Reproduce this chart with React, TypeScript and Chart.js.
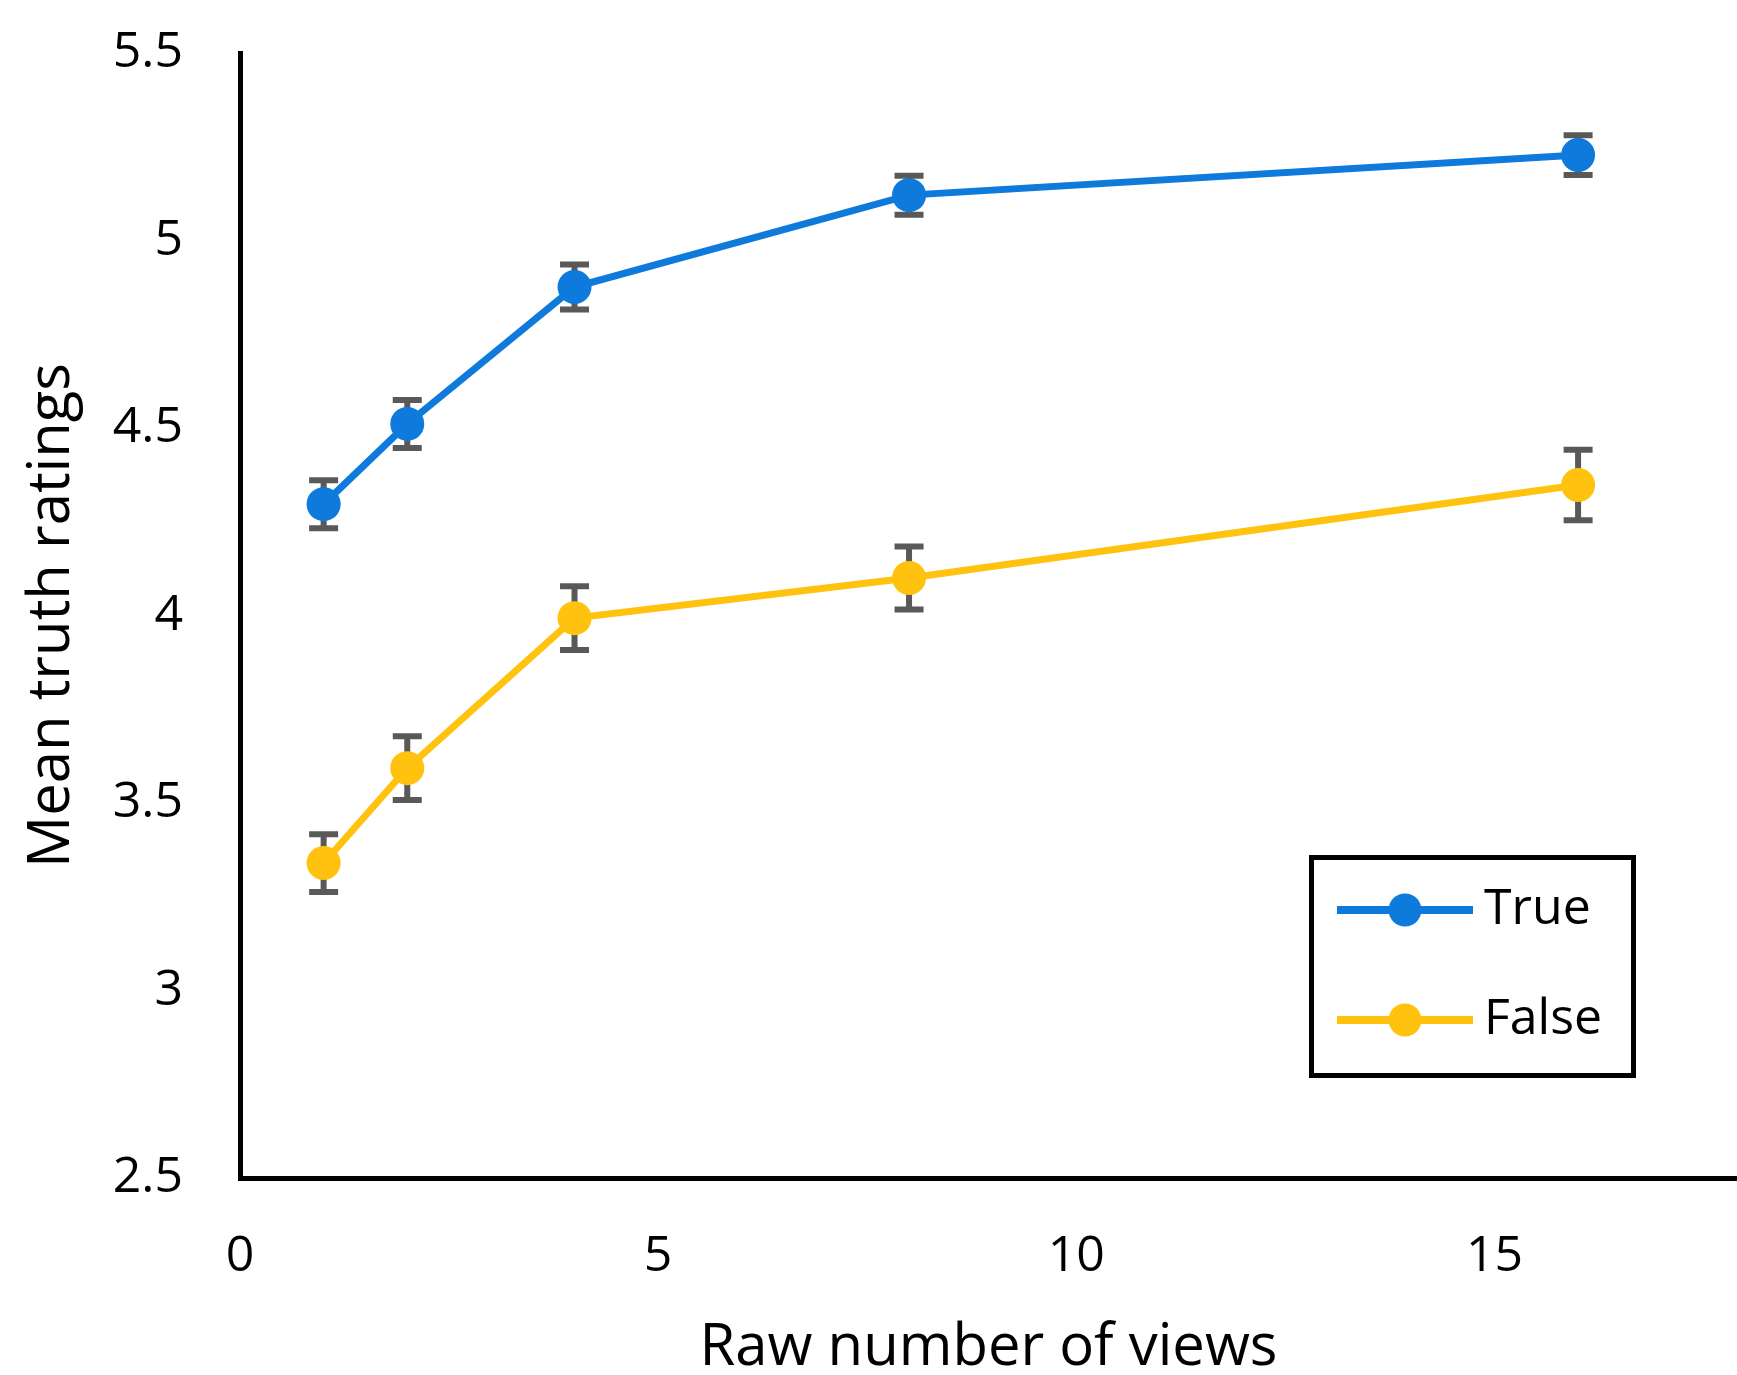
import React, { useEffect, useRef } from "react";
import { Chart, registerables } from "chart.js";

Chart.register(...registerables);

// ---- data ----
const views = [1, 2, 4, 8, 16];
const trueMeans = [4.297, 4.511, 4.876, 5.121, 5.228];
const trueErrors = [0.064, 0.064, 0.06, 0.052, 0.053];
const falseMeans = [3.34, 3.593, 3.993, 4.1, 4.348];
const falseErrors = [0.077, 0.085, 0.085, 0.084, 0.094];
const seriesNames = ["True", "False"];
const yTickValues = [2.5, 3, 3.5, 4, 4.5, 5, 5.5];
const xTickValues = [0, 5, 10, 15];
const xAxisTitle = "Raw number of views";
const yAxisTitle = "Mean truth ratings";

const BLUE = "rgb(14,122,220)";
const GOLD = "rgb(255,194,14)";
const FONT = "'Open Sans', 'Noto Sans', sans-serif";
const W = 1737;
const H = 1375;

const errorBarPlugin = {
  id: "errorBars",
  beforeDatasetsDraw(chart: any) {
    const { ctx } = chart;
    const x = chart.scales.x;
    const y = chart.scales.y;
    ctx.save();
    ctx.strokeStyle = "#595959";
    ctx.lineWidth = 6;
    ctx.lineCap = "butt";
    chart.data.datasets.forEach((ds: any) => {
      const errs: number[] = ds.errors || [];
      ds.data.forEach((p: any, j: number) => {
        const px = x.getPixelForValue(p.x);
        const top = y.getPixelForValue(p.y + errs[j]);
        const bot = y.getPixelForValue(p.y - errs[j]);
        ctx.beginPath();
        ctx.moveTo(px, top);
        ctx.lineTo(px, bot);
        ctx.moveTo(px - 14.5, top);
        ctx.lineTo(px + 14.5, top);
        ctx.moveTo(px - 14.5, bot);
        ctx.lineTo(px + 14.5, bot);
        ctx.stroke();
      });
    });
    ctx.restore();
  },
};

const legendPlugin = {
  id: "boxLegend",
  afterDraw(chart: any) {
    const { ctx } = chart;
    const box = { left: 1311.5, top: 857.5, width: 322, height: 218 };
    const rows = [910, 1020];
    ctx.save();
    ctx.strokeStyle = "#000";
    ctx.lineWidth = 5;
    ctx.strokeRect(box.left, box.top, box.width, box.height);
    chart.data.datasets.forEach((ds: any, i: number) => {
      const yy = rows[i];
      ctx.strokeStyle = ds.borderColor;
      ctx.lineWidth = 8;
      ctx.beginPath();
      ctx.moveTo(1337, yy);
      ctx.lineTo(1473, yy);
      ctx.stroke();
      ctx.fillStyle = ds.pointBackgroundColor;
      ctx.beginPath();
      ctx.arc(1405, yy, 16.5, 0, Math.PI * 2);
      ctx.fill();
      ctx.fillStyle = "#000";
      ctx.font = `50px ${FONT}`;
      ctx.textAlign = "left";
      ctx.textBaseline = "middle";
      ctx.fillText(ds.label, 1484, yy);
    });
    ctx.restore();
  },
};

export default function App() {
  const canvasRef = useRef<HTMLCanvasElement | null>(null);

  useEffect(() => {
    document.body.style.margin = "0";
    document.body.style.overflow = "hidden";
    const canvas = canvasRef.current;
    if (!canvas) return;
    const mk = (means: number[]) => views.map((v, i) => ({ x: v, y: means[i] }));
    const chart = new Chart(canvas, {
      type: "line",
      data: {
        datasets: [
          {
            label: seriesNames[0],
            data: mk(trueMeans),
            errors: trueErrors,
            borderColor: BLUE,
            backgroundColor: BLUE,
            pointBackgroundColor: BLUE,
            pointBorderWidth: 0,
            pointRadius: 17,
            borderWidth: 7,
            tension: 0,
          } as any,
          {
            label: seriesNames[1],
            data: mk(falseMeans),
            errors: falseErrors,
            borderColor: GOLD,
            backgroundColor: GOLD,
            pointBackgroundColor: GOLD,
            pointBorderWidth: 0,
            pointRadius: 17,
            borderWidth: 7,
            tension: 0,
          } as any,
        ],
      },
      options: {
        animation: false,
        responsive: false,
        devicePixelRatio: 1,
        layout: { autoPadding: false, padding: { left: 0, right: 0, top: 53, bottom: 0 } },
        plugins: {
          legend: { display: false },
          tooltip: { enabled: false },
        },
        scales: {
          x: {
            type: "linear",
            min: 0,
            max: 17.9,
            afterBuildTicks: (scale: any) => {
              scale.ticks = xTickValues.map((v) => ({ value: v }));
            },
            afterFit: (scale: any) => {
              scale.height = 197;
              scale.paddingLeft = 0;
              scale.paddingRight = 0;
              scale.paddingTop = 0;
              scale.paddingBottom = 0;
            },
            grid: { display: false, drawTicks: false },
            border: { display: true, color: "#000", width: 5 },
            ticks: {
              color: "#000",
              padding: 49,
              font: { family: FONT, size: 50, lineHeight: 1.2 },
              maxRotation: 0,
              callback: (v: any) => String(v),
            },
            title: {
              display: true,
              text: xAxisTitle,
              color: "#000",
              font: { family: FONT, size: 58, lineHeight: 1 },
              padding: { top: 0, bottom: -2 },
            },
          },
          y: {
            type: "linear",
            min: 2.5,
            max: 5.5,
            afterBuildTicks: (scale: any) => {
              scale.ticks = yTickValues.map((v) => ({ value: v }));
            },
            afterFit: (scale: any) => {
              scale.width = 240;
              scale.paddingLeft = 0;
              scale.paddingRight = 0;
              scale.paddingTop = 0;
              scale.paddingBottom = 0;
            },
            grid: { display: false, drawTicks: false },
            border: { display: true, color: "#000", width: 5 },
            ticks: {
              color: "#000",
              padding: 57,
              font: { family: FONT, size: 50, lineHeight: 1.2 },
              callback: (v: any) => String(v),
            },
            title: {
              display: true,
              text: yAxisTitle,
              color: "#000",
              font: { family: FONT, size: 58, lineHeight: 1.2 },
              padding: { top: 18, bottom: 0 },
            },
          },
        },
      } as any,
      plugins: [errorBarPlugin, legendPlugin],
    });
    return () => chart.destroy();
  }, []);

  return (
    <div style={{ width: W, height: H, position: "relative", background: "#fff", overflow: "hidden" }}>
      <canvas ref={canvasRef} width={W} height={H} style={{ display: "block", width: W, height: H }} />
    </div>
  );
}
